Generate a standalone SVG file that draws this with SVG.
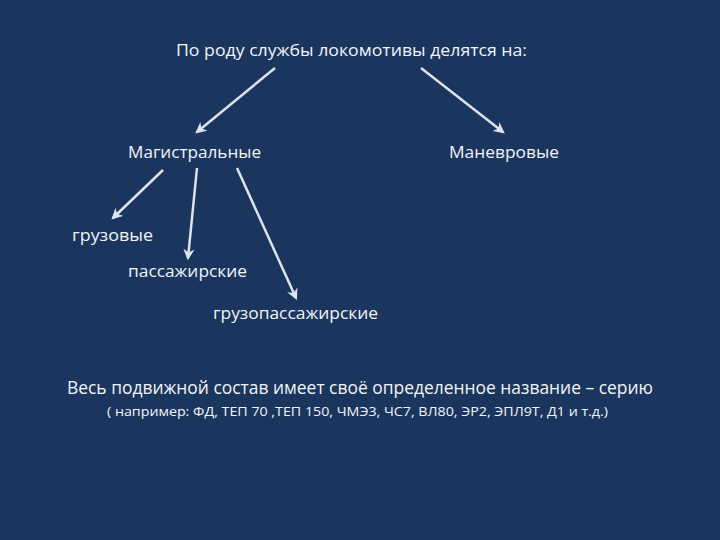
<svg xmlns="http://www.w3.org/2000/svg" width="720" height="540" viewBox="0 0 720 540">
<defs>
<style>
text{font-family:"Open Sans","Liberation Sans",sans-serif;fill:#f2f4f8;}
.t{font-size:16px;}
.a{stroke:#dde3ee;stroke-width:2.5;fill:none;marker-end:url(#ah);}
</style>
<marker id="ah" viewBox="0 0 10 10" refX="8" refY="5" markerWidth="4.5" markerHeight="4.5" orient="auto" markerUnits="strokeWidth">
<path d="M0,0 L10,5 L0,10 L3,5 Z" fill="#dde3ee"/>
</marker>
</defs>
<rect width="720" height="540" fill="#1b365e"/>
<g id="connectors">
<line class="a" x1="275" y1="68" x2="197" y2="132"/>
<line class="a" x1="421" y1="68" x2="503" y2="132"/>
<line class="a" x1="163" y1="170" x2="113" y2="218"/>
<line class="a" x1="197" y1="168" x2="188" y2="258"/>
<line class="a" x1="237" y1="168" x2="296" y2="298"/>
</g>
<g id="root"><text class="t" x="176" y="56" textLength="351" lengthAdjust="spacingAndGlyphs">По роду службы локомотивы делятся на:</text></g>
<g id="magistral"><text class="t" x="128" y="158" textLength="133" lengthAdjust="spacingAndGlyphs">Магистральные</text></g>
<g id="manevr"><text class="t" x="449" y="158" textLength="110" lengthAdjust="spacingAndGlyphs">Маневровые</text></g>
<g id="gruz"><text class="t" x="72" y="241" textLength="81" lengthAdjust="spacingAndGlyphs">грузовые</text></g>
<g id="pass"><text class="t" x="128" y="277" textLength="119" lengthAdjust="spacingAndGlyphs">пассажирские</text></g>
<g id="gruzpass"><text class="t" x="213" y="319" textLength="165" lengthAdjust="spacingAndGlyphs">грузопассажирские</text></g>
<g id="note">
<text x="67" y="394" font-size="18" textLength="586" lengthAdjust="spacingAndGlyphs">Весь подвижной состав имеет своё определенное название – серию</text>
<text x="107" y="416" font-size="13" textLength="501" lengthAdjust="spacingAndGlyphs">( например: ФД, ТЕП 70 ,ТЕП 150, ЧМЭ3, ЧС7, ВЛ80, ЭР2, ЭПЛ9Т, Д1 и т.д.)</text>
</g>
</svg>
